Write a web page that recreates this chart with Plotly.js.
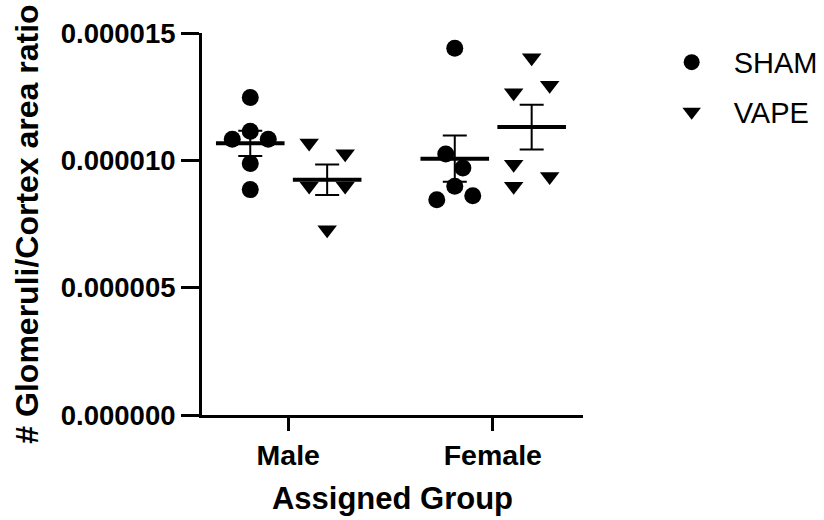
<!DOCTYPE html>
<html>
<head>
<meta charset="utf-8">
<script src="https://cdn.plot.ly/plotly-3.0.1.min.js"></script>
<style>html,body{margin:0;padding:0;background:#fff;}#chart{width:824px;height:520px;}</style>
</head>
<body>
<div id="chart"></div>
<script>
// Categories and series
const groups = ['Male', 'Female'];
const seriesNames = ['SHAM', 'VAPE'];

const shamMale   = [12.47e-6, 11.14e-6, 10.83e-6, 10.83e-6, 9.88e-6, 8.85e-6];
const vapeMale   = [10.68e-6, 10.26e-6, 8.99e-6, 8.99e-6, 7.27e-6];
const shamFemale = [14.40e-6, 10.25e-6, 9.70e-6, 8.98e-6, 8.45e-6, 8.61e-6];
const vapeFemale = [14.03e-6, 12.95e-6, 12.65e-6, 9.85e-6, 9.37e-6, 8.98e-6];

// horizontal scatter spread of each point (fraction of a point width)
const shamMaleSpread   = [0, 0, -1, 1, 0, 0];
const vapeMaleSpread   = [-1, 1, -1, 1, 0];
const shamFemaleSpread = [0, -0.5, 0.45, 0, -1, 1];
const vapeFemaleSpread = [0, 1, -1, -1, 1, -1];

const tickVals = [0, 5e-6, 10e-6, 15e-6];

// ----- layout constants -----
const groupPos = {Male: 0, Female: 1};
const seriesOffset = {SHAM: -0.186, VAPE: 0.19};
const spreadUnit = 0.088;
const FONT = 'Liberation Sans, Arial, Helvetica, sans-serif';

function mean(a){ return a.reduce((s,v)=>s+v,0)/a.length; }
function sem(a){
  const m = mean(a);
  const v = a.reduce((s,x)=>s+(x-m)*(x-m),0)/(a.length-1);
  return Math.sqrt(v/a.length);
}

const data = {
  SHAM: {Male: [shamMale, shamMaleSpread], Female: [shamFemale, shamFemaleSpread]},
  VAPE: {Male: [vapeMale, vapeMaleSpread], Female: [vapeFemale, vapeFemaleSpread]}
};
const symbols = {SHAM: 'circle', VAPE: 'triangle-down'};

const traces = [];
seriesNames.forEach(function(s){
  const xs = [], ys = [];
  groups.forEach(function(g){
    const [vals, spr] = data[s][g];
    vals.forEach(function(v,i){
      xs.push(groupPos[g] + seriesOffset[s] + spr[i]*spreadUnit);
      ys.push(v);
    });
  });
  traces.push({
    type: 'scatter', mode: 'markers', name: s, x: xs, y: ys,
    legendgroup: s,
    marker: {symbol: symbols[s], size: 17, color: '#000'},
    showlegend: true, cliponaxis: false, hoverinfo: 'skip'
  });
});

// mean +/- SEM
seriesNames.forEach(function(s){
  const xs = [], ys = [], es = [];
  groups.forEach(function(g){
    const vals = data[s][g][0];
    xs.push(groupPos[g] + seriesOffset[s]);
    ys.push(mean(vals));
    es.push(sem(vals));
  });
  traces.push({
    type: 'scatter', mode: 'markers', x: xs, y: ys, showlegend: false,
    legendgroup: s,
    marker: {symbol: 'line-ew', size: 49, color: '#000', line: {width: 4, color: '#000'}},
    error_y: {type: 'data', array: es, visible: true, color: '#000', thickness: 2, width: 12},
    cliponaxis: false, hoverinfo: 'skip'
  });
});

const layout = {
  width: 824, height: 520,
  margin: {l: 202, r: 241, t: 33, b: 105, autoexpand: false},
  paper_bgcolor: '#fff', plot_bgcolor: '#fff',
  font: {family: FONT, color: '#000'},
  showlegend: true,
  legend: {
    x: 1.175, xanchor: 'left', xref: 'paper', y: 0.99, yanchor: 'top',
    font: {family: FONT, size: 29, color: '#000'},
    bgcolor: 'rgba(0,0,0,0)', traceorder: 'grouped', tracegroupgap: 9,
    itemsizing: 'trace', itemwidth: 74
  },
  xaxis: {
    range: [-0.422, 1.441], automargin: false,
    tickmode: 'array', tickvals: groups.map(g => groupPos[g]), ticktext: groups,
    showgrid: false, zeroline: false, showline: true, linecolor: '#000', linewidth: 3,
    ticks: 'outside', ticklen: 13, tickwidth: 3, tickcolor: '#000',
    tickfont: {family: FONT, size: 28.5, weight: 'bold', color: '#000'},
    title: {text: 'Assigned Group', font: {family: FONT, size: 31, weight: 'bold', color: '#000'}, standoff: 18},
    fixedrange: true
  },
  yaxis: {
    range: [0, 15e-6], automargin: false,
    tickmode: 'array', tickvals: tickVals, tickformat: '.6f',
    showgrid: false, zeroline: false, showline: true, linecolor: '#000', linewidth: 3,
    ticks: 'outside', ticklen: 18, tickwidth: 3, tickcolor: '#000',
    tickfont: {family: FONT, size: 27.5, weight: 'bold', color: '#000'},
    title: {text: '# Glomeruli/Cortex area ratio', font: {family: FONT, size: 32, weight: 'bold', color: '#000'}, standoff: 13},
    fixedrange: true
  }
};

Plotly.newPlot('chart', traces, layout, {staticPlot: true, displayModeBar: false});
</script>
</body>
</html>
